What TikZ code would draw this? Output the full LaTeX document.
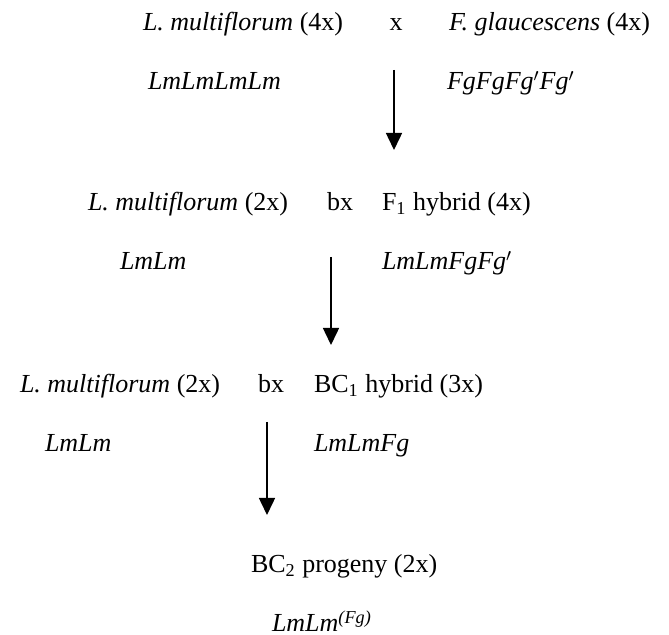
\documentclass[tikz,border=0pt]{standalone}
\usepackage{fontspec}
\setmainfont{Liberation Serif}
\usetikzlibrary{arrows.meta}
\begin{document}
\begin{tikzpicture}[x=0.5pt,y=-0.5pt,
  lbl/.style={inner sep=0pt, outer sep=0pt, font=\fontsize{13pt}{15pt}\selectfont, anchor=base west},
  ctr/.style={lbl, anchor=base},
  gen/.style={lbl, font=\fontsize{13pt}{15pt}\selectfont\itshape},
  cross/.style={line width=0.75pt, -{Triangle[width=8pt,length=8.5pt]}}]
\useasboundingbox (0,0) rectangle (669,635);
% row 1
\node[lbl] (p1) at (143,31) {\textit{L. multiflorum} (4x)};
\node[ctr] (x1) at (396,31) {x};
\node[lbl] (p2) at (449,31) {\textit{F. glaucescens} (4x)};
% row 2
\node[gen] (g1) at (148,90) {LmLmLmLm};
\node[gen] (g2) at (447,90) {FgFgFg$^{\prime}$Fg$^{\prime}$};
% arrow 1
\coordinate (a1s) at (394,70);
\coordinate (a1e) at (394,150);
\draw[cross] (a1s) -- (a1e);
% row 3
\node[lbl] (p3) at (88,211) {\textit{L. multiflorum} (2x)};
\node[ctr] (x2) at (340,211) {bx};
\node[lbl] (p4) at (382,211) {F\textsubscript{1} hybrid (4x)};
% row 4
\node[gen] (g3) at (120,270) {LmLm};
\node[gen] (g4) at (382,270) {LmLmFgFg$^{\prime}$};
% arrow 2
\coordinate (a2s) at (331,257);
\coordinate (a2e) at (331,345);
\draw[cross] (a2s) -- (a2e);
% row 5
\node[lbl] (p5) at (20,393) {\textit{L. multiflorum} (2x)};
\node[ctr] (x3) at (271,393) {bx};
\node[lbl] (p6) at (314,393) {BC\textsubscript{1} hybrid (3x)};
% row 6
\node[gen] (g5) at (45,452) {LmLm};
\node[gen] (g6) at (314,452) {LmLmFg};
% arrow 3
\coordinate (a3s) at (267,422);
\coordinate (a3e) at (267,515);
\draw[cross] (a3s) -- (a3e);
% row 7
\node[lbl] (p7) at (251,573) {BC\textsubscript{2} progeny (2x)};
% row 8
\node[gen] (g7) at (272,632) {LmLm\textsuperscript{(Fg)}};
\end{tikzpicture}
\end{document}
